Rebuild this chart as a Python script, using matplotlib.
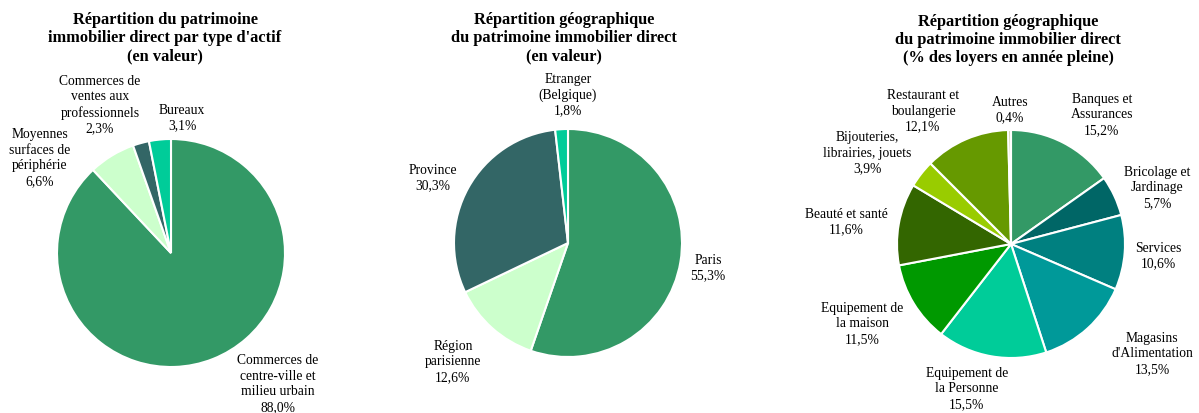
"""
Trois camemberts : repartition du patrimoine immobilier direct.
"""

import matplotlib
matplotlib.use("Agg")
import matplotlib.pyplot as plt

plt.rcParams['font.family'] = ['Liberation Serif', 'DejaVu Serif']

# --- donnees ---
type_labels = ["Commerces de\ncentre-ville et\nmilieu urbain",
               "Moyennes\nsurfaces de\npériphérie",
               "Commerces de\nventes aux\nprofessionnels",
               "Bureaux"]
type_values = [88.0, 6.6, 2.3, 3.1]
type_colors = ["#339966", "#ccffcc", "#336666", "#00cc99"]

geo_labels = ["Paris", "Région\nparisienne", "Province", "Etranger\n(Belgique)"]
geo_values = [55.3, 12.6, 30.3, 1.8]
geo_colors = ["#339966", "#ccffcc", "#336666", "#00cc99"]

loyer_labels = ["Banques et\nAssurances", "Bricolage et\nJardinage", "Services",
                "Magasins\nd'Alimentation", "Equipement de\nla Personne",
                "Equipement de\nla maison", "Beauté et santé",
                "Bijouteries,\nlibrairies, jouets", "Restaurant et\nboulangerie",
                "Autres"]
loyer_values = [15.2, 5.7, 10.6, 13.5, 15.5, 11.5, 11.6, 3.9, 12.1, 0.4]
loyer_colors = ["#339966", "#006666", "#008080", "#009999", "#00cc99",
                "#009900", "#336600", "#99cc00", "#669900", "#c8c8a0"]

titles = ["Répartition du patrimoine\nimmobilier direct par type d'actif\n(en valeur)",
          "Répartition géographique\ndu patrimoine immobilier direct\n(en valeur)",
          "Répartition géographique\ndu patrimoine immobilier direct\n(% des loyers en année pleine)"]

# --- mise en page (pixels, y depuis le haut) ---
W, H = 1199, 414
centers = [(171, 254), (568, 244), (1011, 245)]
radius = 114
title_pos = [(165, 38), (564, 38), (1008, 40)]
label_pos = [
    [(278, 384), (40, 158), (100, 105), (182, 118)],
    [(708, 268), (453, 362), (433, 178), (568, 95)],
    [(1102, 115), (1157, 188), (1158, 256), (1152, 354), (967, 389),
     (862, 324), (846, 222), (867, 153), (923, 111), (1010, 110)],
]

fig = plt.figure(figsize=(W / 100, H / 100), dpi=100)
ax = fig.add_axes([0, 0, 1, 1])

datasets = [(type_labels, type_values, type_colors),
            (geo_labels, geo_values, geo_colors),
            (loyer_labels, loyer_values, loyer_colors)]

for i, (labels, values, colors) in enumerate(datasets):
    cx, cy = centers[i]
    ax.pie(values, colors=colors, startangle=90, counterclock=False,
           center=(cx, H - cy), radius=radius,
           wedgeprops=dict(edgecolor="white", linewidth=1.5))
    tx, ty = title_pos[i]
    ax.text(tx, H - ty, titles[i], ha="center", va="center", fontsize=11.8,
            fontweight="bold", linespacing=1.2)
    for lab, val, (lx, ly) in zip(labels, values, label_pos[i]):
        txt = lab + "\n" + f"{val:.1f}".replace(".", ",") + "%"
        ax.text(lx, H - ly, txt, ha="center", va="center", fontsize=9.8,
                linespacing=1.25)

ax.set_xlim(0, W)
ax.set_ylim(0, H)
ax.set_aspect("equal")
ax.axis("off")

fig.savefig("out.png", dpi=100)
